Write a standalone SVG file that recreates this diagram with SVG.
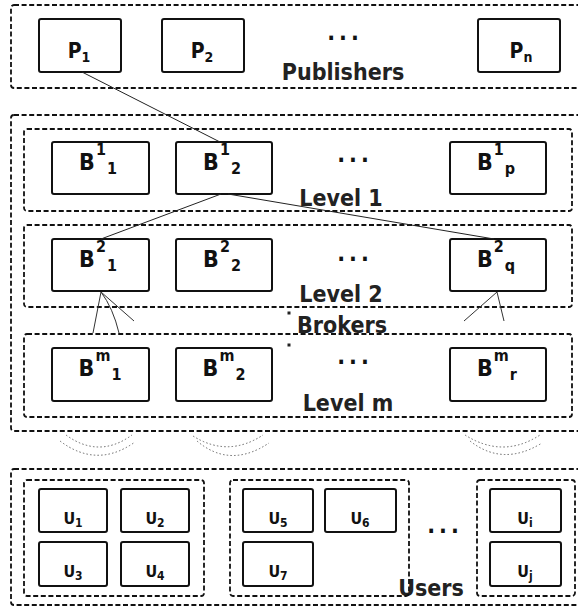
<svg xmlns="http://www.w3.org/2000/svg" width="578" height="606" viewBox="0 0 578 606">
  <style>
    .bg { fill: #ffffff; }
    .area { fill: none; stroke: #111; stroke-width: 1.8; stroke-dasharray: 5 2.6; }
    .node rect { fill: #fff; stroke: #111; stroke-width: 2; }
    .lbl { font-family: "DejaVu Sans Condensed", "DejaVu Sans", sans-serif; font-stretch: condensed; font-weight: bold; fill: #111; }
    .p { font-size: 21px; text-anchor: middle; }
    .b { font-size: 23px; text-anchor: middle; }
    .u { font-size: 16px; text-anchor: middle; }
    .ss { font-size: 16px; }
    .ps { font-size: 14px; }
    .us { font-size: 12px; }
    .cap { font-size: 23px; fill: #222; }
    .dots { font-size: 23px; text-anchor: middle; letter-spacing: 4px; }
    .link { fill: none; stroke: #222; stroke-width: 1; }
    .fan { fill: none; stroke: #333; stroke-width: 1; }
    .wave { fill: none; stroke: #666; stroke-width: 1; stroke-dasharray: 1.5 2.2; }
  </style>
  <rect class="bg" x="0" y="0" width="578" height="606"/>

  <!-- Publishers tier -->
  <g id="publishers">
    <rect class="area" x="11" y="5" width="590" height="83" rx="3"/>
    <text class="lbl cap" x="343" y="80" text-anchor="middle">Publishers</text>
    <text class="lbl dots" x="345" y="40">...</text>
  </g>
  <g id="p1" class="node"><rect x="39" y="19" width="82" height="53" rx="2"/><text class="lbl p" x="79" y="58">P<tspan class="ps" dy="3.5">1</tspan></text></g>
  <g id="p2" class="node"><rect x="162" y="19" width="82" height="53" rx="2"/><text class="lbl p" x="202" y="58">P<tspan class="ps" dy="3.5">2</tspan></text></g>
  <g id="pn" class="node"><rect x="478" y="19" width="82" height="53" rx="2"/><text class="lbl p" x="521" y="58">P<tspan class="ps" dy="3.5">n</tspan></text></g>

  <!-- Broker tiers -->
  <g id="brokers">
    <rect class="area" x="11" y="115" width="590" height="316" rx="3"/>
    <text class="lbl cap" x="342" y="333" text-anchor="middle">Brokers</text>
    <rect x="287.5" y="311.5" width="3" height="3" fill="#222"/>
    <rect x="287.5" y="343.5" width="3" height="3" fill="#222"/>
  </g>
  <g id="level1">
    <rect class="area" x="24" y="129" width="548" height="82" rx="3"/>
    <text class="lbl cap" x="341" y="206" text-anchor="middle">Level 1</text>
    <text class="lbl dots" x="355" y="162">...</text>
  </g>
  <g id="b1-1" class="node"><rect x="52" y="142" width="97" height="52" rx="2"/><text class="lbl b" x="98" y="170">B<tspan class="ss" dx="1" dy="-15">1</tspan><tspan class="ss" dx="1" dy="18.5">1</tspan></text></g>
  <g id="b1-2" class="node"><rect x="176" y="142" width="96" height="52" rx="2"/><text class="lbl b" x="222" y="170">B<tspan class="ss" dx="1" dy="-15">1</tspan><tspan class="ss" dx="1" dy="18.5">2</tspan></text></g>
  <g id="b1-p" class="node"><rect x="450" y="142" width="96" height="52" rx="2"/><text class="lbl b" x="496" y="170">B<tspan class="ss" dx="1" dy="-15">1</tspan><tspan class="ss" dx="1" dy="18.5">p</tspan></text></g>

  <g id="level2">
    <rect class="area" x="24" y="225" width="548" height="82" rx="3"/>
    <text class="lbl cap" x="341" y="302" text-anchor="middle">Level 2</text>
    <text class="lbl dots" x="355" y="261">...</text>
  </g>
  <g id="b2-1" class="node"><rect x="52" y="239" width="97" height="52" rx="2"/><text class="lbl b" x="98" y="267">B<tspan class="ss" dx="1" dy="-15">2</tspan><tspan class="ss" dx="1" dy="18.5">1</tspan></text></g>
  <g id="b2-2" class="node"><rect x="176" y="239" width="96" height="52" rx="2"/><text class="lbl b" x="222" y="267">B<tspan class="ss" dx="1" dy="-15">2</tspan><tspan class="ss" dx="1" dy="18.5">2</tspan></text></g>
  <g id="b2-q" class="node"><rect x="450" y="239" width="96" height="52" rx="2"/><text class="lbl b" x="496" y="267">B<tspan class="ss" dx="1" dy="-15">2</tspan><tspan class="ss" dx="1" dy="18.5">q</tspan></text></g>

  <g id="levelm">
    <rect class="area" x="24" y="334" width="548" height="83" rx="3"/>
    <text class="lbl cap" x="348" y="411" text-anchor="middle">Level m</text>
    <text class="lbl dots" x="355" y="364">...</text>
  </g>
  <g id="bm-1" class="node"><rect x="52" y="348" width="97" height="53" rx="2"/><text class="lbl b" x="100" y="376">B<tspan class="ss" dx="1" dy="-15">m</tspan><tspan class="ss" dx="1" dy="18.5">1</tspan></text></g>
  <g id="bm-2" class="node"><rect x="176" y="348" width="96" height="53" rx="2"/><text class="lbl b" x="224" y="376">B<tspan class="ss" dx="1" dy="-15">m</tspan><tspan class="ss" dx="1" dy="18.5">2</tspan></text></g>
  <g id="bm-r" class="node"><rect x="450" y="348" width="96" height="53" rx="2"/><text class="lbl b" x="497" y="376">B<tspan class="ss" dx="1" dy="-15">m</tspan><tspan class="ss" dx="1" dy="18.5">r</tspan></text></g>

  <!-- User tier -->
  <g id="users">
    <rect class="area" x="11" y="469" width="590" height="136" rx="3"/>
    <text class="lbl cap" x="431" y="596" text-anchor="middle" font-size="22">Users</text>
    <text class="lbl dots" x="445" y="533">...</text>
  </g>
  <g id="group-a">
    <rect class="area" x="24" y="480" width="180" height="116" rx="3"/>
  </g>
  <g id="group-b">
    <rect class="area" x="230" y="480" width="179" height="116" rx="3"/>
  </g>
  <g id="group-c">
    <rect class="area" x="477" y="480" width="98" height="116" rx="3"/>
  </g>
  <g id="u1" class="node"><rect x="39" y="489" width="68" height="43" rx="2"/><text class="lbl u" x="73" y="524">U<tspan class="us" dy="3">1</tspan></text></g>
  <g id="u2" class="node"><rect x="121" y="489" width="68" height="43" rx="2"/><text class="lbl u" x="155" y="524">U<tspan class="us" dy="3">2</tspan></text></g>
  <g id="u3" class="node"><rect x="39" y="542" width="68" height="44" rx="2"/><text class="lbl u" x="73" y="577">U<tspan class="us" dy="3">3</tspan></text></g>
  <g id="u4" class="node"><rect x="121" y="542" width="68" height="44" rx="2"/><text class="lbl u" x="155" y="577">U<tspan class="us" dy="3">4</tspan></text></g>
  <g id="u5" class="node"><rect x="243" y="489" width="70" height="43" rx="2"/><text class="lbl u" x="278" y="524">U<tspan class="us" dy="3">5</tspan></text></g>
  <g id="u6" class="node"><rect x="325" y="489" width="71" height="43" rx="2"/><text class="lbl u" x="360" y="524">U<tspan class="us" dy="3">6</tspan></text></g>
  <g id="u7" class="node"><rect x="243" y="542" width="70" height="44" rx="2"/><text class="lbl u" x="278" y="577">U<tspan class="us" dy="3">7</tspan></text></g>
  <g id="ui" class="node"><rect x="490" y="489" width="71" height="43" rx="2"/><text class="lbl u" x="525" y="524">U<tspan class="us" dy="3">i</tspan></text></g>
  <g id="uj" class="node"><rect x="490" y="542" width="71" height="44" rx="2"/><text class="lbl u" x="525" y="577">U<tspan class="us" dy="3">j</tspan></text></g>

  <!-- Connectors -->
  <g id="connectors">
    <line class="link" x1="82" y1="72" x2="220" y2="142"/>
    <line class="link" x1="221" y1="194" x2="101" y2="239"/>
    <line class="link" x1="228" y1="194" x2="494" y2="239"/>
    <path class="fan" d="M101 292 L93 333"/>
    <path class="fan" d="M101 292 Q113 308 119 333"/>
    <path class="fan" d="M101 292 L134 321"/>
    <path class="fan" d="M497 292 L464 321"/>
    <path class="fan" d="M497 292 L504 321"/>
    <path class="wave" d="M66 435 Q99 459 132 435"/>
    <path class="wave" d="M60 441 Q97 469 135 442"/>
    <path class="wave" d="M193 436 Q228 458 263 435"/>
    <path class="wave" d="M197 441 Q230 469 269 443"/>
    <path class="wave" d="M465 435 Q503 459 540 435"/>
    <path class="wave" d="M470 441 Q503 467 542 443"/>
  </g>
</svg>
